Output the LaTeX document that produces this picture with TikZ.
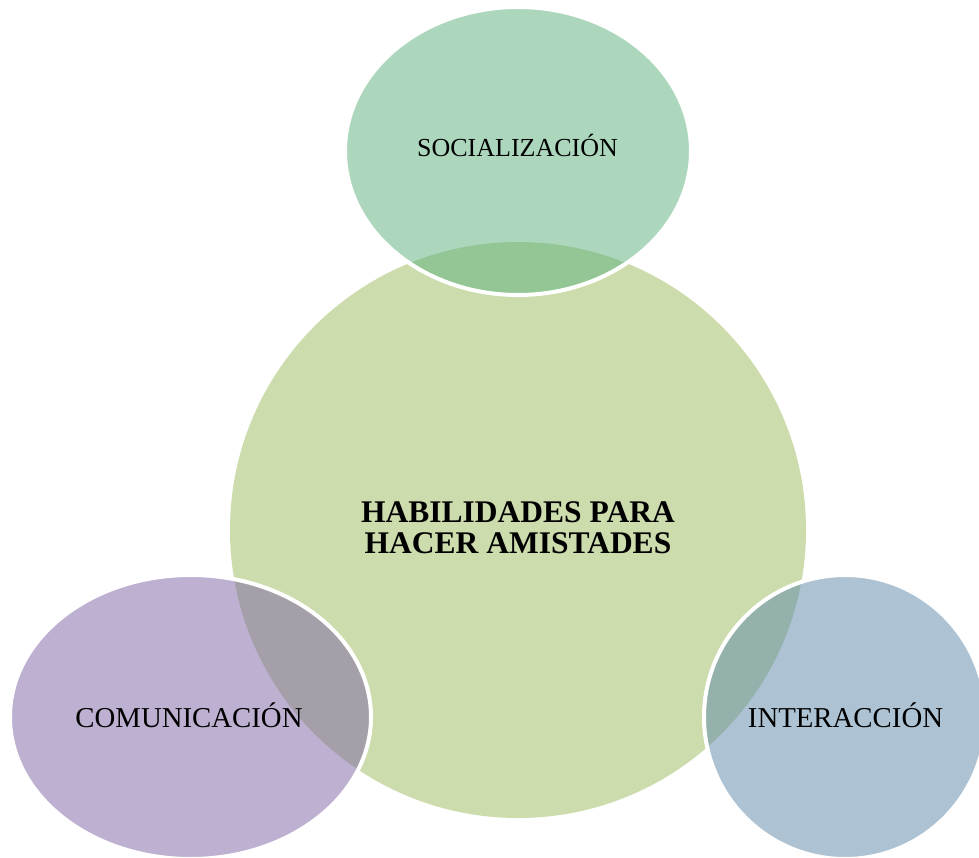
\documentclass[tikz,border=0pt]{standalone}
\usepackage{fontspec}
\setmainfont{Liberation Serif}
\usetikzlibrary{shapes.geometric}
\definecolor{bigc}{RGB}{205,220,172}
\definecolor{topc}{RGB}{91,177,125}
\definecolor{leftc}{RGB}{125,99,165}
\definecolor{rightc}{RGB}{93,137,171}
\tikzset{
  blob/.style={ellipse, draw=white, line width=4pt, fill opacity=0.5, draw opacity=1, inner sep=0pt, outer sep=0pt},
  smalltext/.style={text=black, inner sep=0pt, anchor=base, font=\fontsize{26}{26}\selectfont},
  sidetext/.style={text=black, inner sep=0pt, anchor=base, font=\fontsize{28.8}{28.8}\selectfont},
  maintext/.style={text=black, inner sep=0pt, align=center, font=\bfseries\fontsize{31.5}{31}\selectfont}
}
\begin{document}
\begin{tikzpicture}[x=1pt,y=-1pt]
\fill[white] (0,0) rectangle (979,858);
\useasboundingbox (0,0) rectangle (979,858);
\node[circle, fill=bigc, minimum size=576pt, inner sep=0pt] (main) at (518,530) {};
\node[blob, fill=topc, minimum width=346pt, minimum height=288pt] (soc) at (518,151) {};
\node[blob, fill=leftc, minimum width=361pt, minimum height=284pt] (com) at (190.5,717) {};
\node[blob, fill=rightc, minimum width=282pt, minimum height=284pt] (int) at (845,717) {};
\node[maintext] (mainlbl) at (518,527.5) {HABILIDADES PARA\\HACER AMISTADES};
\node[smalltext] (soclbl) at (517.5,157) {SOCIALIZACIÓN};
\node[sidetext] (comlbl) at (189,727) {COMUNICACIÓN};
\node[sidetext] (intlbl) at (845.5,727) {INTERACCIÓN};
\end{tikzpicture}
\end{document}
